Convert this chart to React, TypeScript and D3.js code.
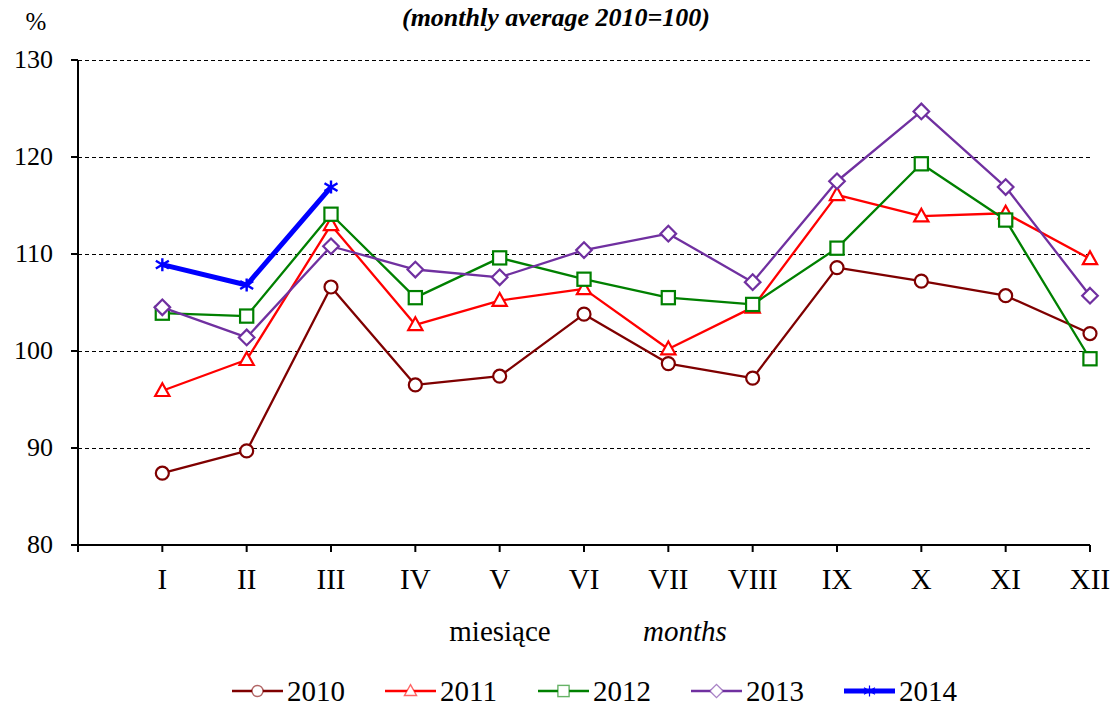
import React from "react";
import * as d3 from "d3";

const months = ["I", "II", "III", "IV", "V", "VI", "VII", "VIII", "IX", "X", "XI", "XII"];
const yTicks = [80, 90, 100, 110, 120, 130];

const s2010 = [87.4, 89.7, 106.6, 96.5, 97.4, 103.8, 98.7, 97.2, 108.6, 107.2, 105.7, 101.8];
const s2011 = [95.9, 99.1, 113.0, 102.7, 105.2, 106.4, 100.2, 104.5, 116.1, 113.9, 114.2, 109.5];
const s2012 = [103.9, 103.6, 114.1, 105.5, 109.6, 107.4, 105.5, 104.8, 110.6, 119.3, 113.5, 99.2];
const s2013 = [104.5, 101.4, 110.8, 108.4, 107.6, 110.4, 112.1, 107.1, 117.5, 124.7, 116.9, 105.7];
const s2014 = [108.9, 106.8, 116.9];

const seriesNames = ["2010", "2011", "2012", "2013", "2014"];

type Marker = "circle" | "triangle" | "square" | "diamond" | "star";

const series: { name: string; values: number[]; color: string; marker: Marker; width: number }[] = [
  { name: seriesNames[0], values: s2010, color: "#7f0000", marker: "circle", width: 2.3 },
  { name: seriesNames[1], values: s2011, color: "#ff0000", marker: "triangle", width: 2.3 },
  { name: seriesNames[2], values: s2012, color: "#008000", marker: "square", width: 2.3 },
  { name: seriesNames[3], values: s2013, color: "#7030a0", marker: "diamond", width: 2.3 },
  { name: seriesNames[4], values: s2014, color: "#0000ff", marker: "star", width: 5 },
];

const W = 1118;
const H = 706;
const x = d3.scaleLinear().domain([0, 12]).range([78, 1090]);
const y = d3.scaleLinear().domain([80, 130]).range([545, 60]);

const serifStyle: React.CSSProperties = { fontFamily: '"Liberation Serif", "Times New Roman", Times, serif' };

function MarkerShape({ kind, cx, cy, color, scale = 1, legend = false }: { kind: Marker; cx: number; cy: number; color: string; scale?: number; legend?: boolean }) {
  const sw = legend ? 1.4 : 2.2;
  const op = legend ? 0.6 : 1;
  if (kind === "circle") {
    const r = 6.5 * scale;
    return <circle cx={cx} cy={cy} r={r} fill="white" stroke={color} strokeWidth={sw} strokeOpacity={op} />;
  }
  if (kind === "triangle") {
    const s = 7.5 * scale;
    const p = `M${cx},${cy - s}L${cx + s * 0.95},${cy + s * 0.7}L${cx - s * 0.95},${cy + s * 0.7}Z`;
    return <path d={p} fill="white" stroke={color} strokeWidth={sw} strokeOpacity={op} />;
  }
  if (kind === "square") {
    const s = 6.6 * scale;
    return <rect x={cx - s} y={cy - s} width={2 * s} height={2 * s} fill="white" stroke={color} strokeWidth={sw} strokeOpacity={op} />;
  }
  if (kind === "diamond") {
    const s = 7.8 * scale;
    const p = `M${cx},${cy - s}L${cx + s},${cy}L${cx},${cy + s}L${cx - s},${cy}Z`;
    return <path d={p} fill="white" stroke={color} strokeWidth={sw} strokeOpacity={op} />;
  }
  const s = 6.5 * scale;
  const p = `M${cx},${cy - s}L${cx},${cy + s}M${cx - s},${cy - s * 0.6}L${cx + s},${cy + s * 0.6}M${cx - s},${cy + s * 0.6}L${cx + s},${cy - s * 0.6}`;
  return <path d={p} fill="none" stroke={color} strokeWidth={legend ? 1.2 : 2.4} />;
}

export default function App() {
  const line = d3
    .line<number>()
    .x((_, i) => x(i + 1))
    .y((d) => y(d));

  const legendX0 = 232;
  const legendStep = 153;
  const legendY = 691;

  return (
    <svg width={W} height={H} style={{ position: "absolute", left: 0, top: 0, background: "white" }}>
      <rect width={W} height={H} fill="white" />
      <g style={serifStyle}>
        <text x={556} y={26} textAnchor="middle" fontSize={26} fontWeight="bold" fontStyle="italic">
          (monthly average 2010=100)
        </text>
        <text x={36} y={30} textAnchor="middle" fontSize={25}>
          %
        </text>
      </g>

      {yTicks.slice(1).map((t) => (
        <line key={"g" + t} x1={x(0)} x2={x(12)} y1={y(t) + 0.5} y2={y(t) + 0.5} stroke="#000" strokeWidth={1.2} strokeDasharray="4,3" />
      ))}

      <line x1={x(0)} x2={x(0)} y1={y(130)} y2={y(80)} stroke="#000" strokeWidth={2} />
      <line x1={x(0)} x2={x(12)} y1={y(80)} y2={y(80)} stroke="#000" strokeWidth={2} />
      <g style={serifStyle}>
        {yTicks.map((t) => (
          <g key={"y" + t}>
            <line x1={x(0) - 7} x2={x(0)} y1={y(t)} y2={y(t)} stroke="#000" strokeWidth={2} />
            <text x={53} y={y(t) + 8} textAnchor="end" fontSize={26}>
              {t}
            </text>
          </g>
        ))}
        {d3.range(13).map((k) => (
          <line key={"xt" + k} x1={x(k)} x2={x(k)} y1={y(80)} y2={y(80) + 7} stroke="#000" strokeWidth={2} />
        ))}
        {months.map((m, i) => (
          <text key={m} x={x(i + 1)} y={589} textAnchor="middle" fontSize={29}>
            {m}
          </text>
        ))}

        <text x={500} y={641} textAnchor="middle" fontSize={29}>
          miesiące
        </text>
        <text x={685} y={641} textAnchor="middle" fontSize={29} fontStyle="italic">
          months
        </text>
      </g>

      {series.map((s) => (
        <g key={s.name}>
          <path d={line(s.values) || ""} fill="none" stroke={s.color} strokeWidth={s.width} strokeLinejoin="round" />
          {s.values.map((v, i) => (
            <MarkerShape key={i} kind={s.marker} cx={x(i + 1)} cy={y(v)} color={s.color} />
          ))}
        </g>
      ))}

      <g style={serifStyle}>
        {series.map((s, i) => {
          const lx = legendX0 + i * legendStep;
          return (
            <g key={"l" + s.name}>
              <line x1={lx} x2={lx + 51} y1={legendY} y2={legendY} stroke={s.color} strokeWidth={s.width < 3 ? 2.7 : 5} />
              <MarkerShape kind={s.marker} cx={lx + 25.5} cy={legendY} color={s.color} scale={0.85} legend />
              <text x={lx + 55} y={legendY + 10} fontSize={29}>
                {s.name}
              </text>
            </g>
          );
        })}
      </g>
    </svg>
  );
}
